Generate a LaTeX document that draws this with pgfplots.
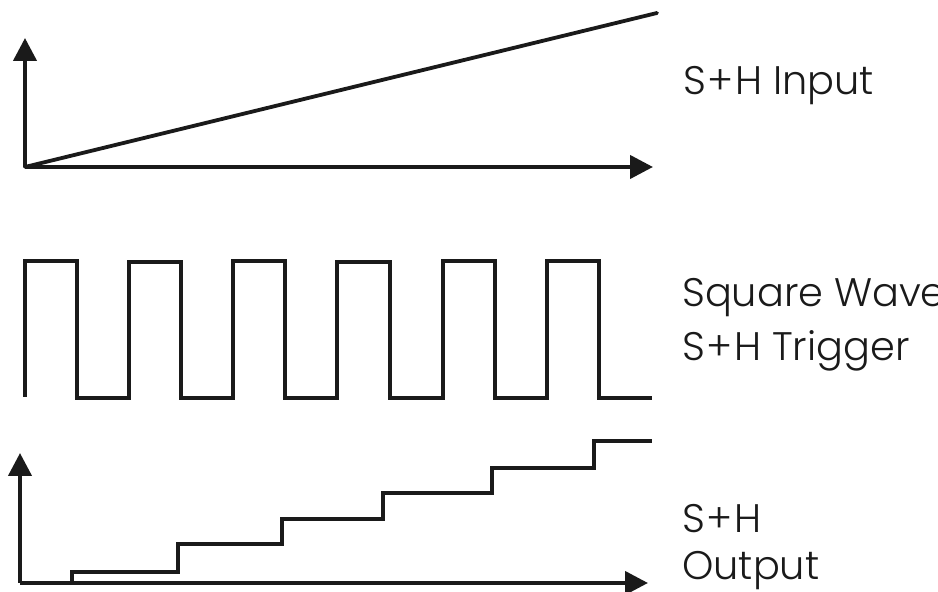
\documentclass[border=0pt]{standalone}
\usepackage{pgfplots}
\pgfplotsset{compat=1.18}
\usepackage{fontspec}
\setmainfont{Poppins}[UprightFont=* Light]
\usetikzlibrary{arrows.meta}
\definecolor{ink}{HTML}{1A1A1A}
\newcommand{\SH}{S\kern0.04em+\kern0.04em H}
\begin{document}
\begin{tikzpicture}[x=1bp,y=1bp]
\useasboundingbox (0,0) rectangle (938,592);
% ---------- top: S+H input ramp ----------
\begin{axis}[
  at={(25bp,425bp)}, anchor=south west,
  scale only axis, width=628bp, height=129bp,
  xmin=0, xmax=628, ymin=0, ymax=129,
  axis lines=left, clip=false,
  axis line style={ink, line width=4.2bp, -{Triangle[length=23bp,width=23bp]}},
  xtick=\empty, ytick=\empty,
]
\addplot[ink, line width=3.8bp, line cap=round] coordinates {(0,0) (632,154)};
\end{axis}
% ---------- middle: square wave ----------
\begin{axis}[
  at={(25bp,194bp)}, anchor=south west,
  scale only axis, width=627bp, height=137bp,
  xmin=0, xmax=627, ymin=0, ymax=137,
  axis lines=none, clip=false,
]
\addplot[ink, line width=4bp, line join=miter] coordinates {
  (0,1) (0,137) (52,137) (52,0) (104,0) (104,136) (156,136) (156,0)
  (208,0) (208,137) (260,137) (260,0) (312,0) (312,136) (365,136) (365,0)
  (418,0) (418,137) (470,137) (470,0) (522,0) (522,137) (574,137) (574,0)
  (627,0)};
\end{axis}
% ---------- bottom: S+H output staircase ----------
\begin{axis}[
  at={(20bp,9bp)}, anchor=south west,
  scale only axis, width=628bp, height=130bp,
  xmin=0, xmax=628, ymin=0, ymax=130,
  axis lines=left, clip=false,
  axis line style={ink, line width=4.2bp, -{Triangle[length=23bp,width=23bp]}},
  xtick=\empty, ytick=\empty,
]
\addplot[ink, line width=4bp, line join=miter] coordinates {
  (52,0) (52,11) (158,11) (158,39) (262,39) (262,64) (363,64) (363,90)
  (472,90) (472,115) (574,115) (574,142) (632,142)};
\end{axis}
% ---------- labels ----------
\begin{scope}[every node/.style={anchor=base west, inner sep=0pt, text=ink, font=\fontsize{40}{40}\selectfont}]
\node at (683,497) {\SH{} Input};
\node at (682,285) {Square Wave};
\node at (682,231) {\SH{} Trigger};
\node at (682,59) {\SH};
\node at (682,12) {Output};
\end{scope}
\end{tikzpicture}
\end{document}
